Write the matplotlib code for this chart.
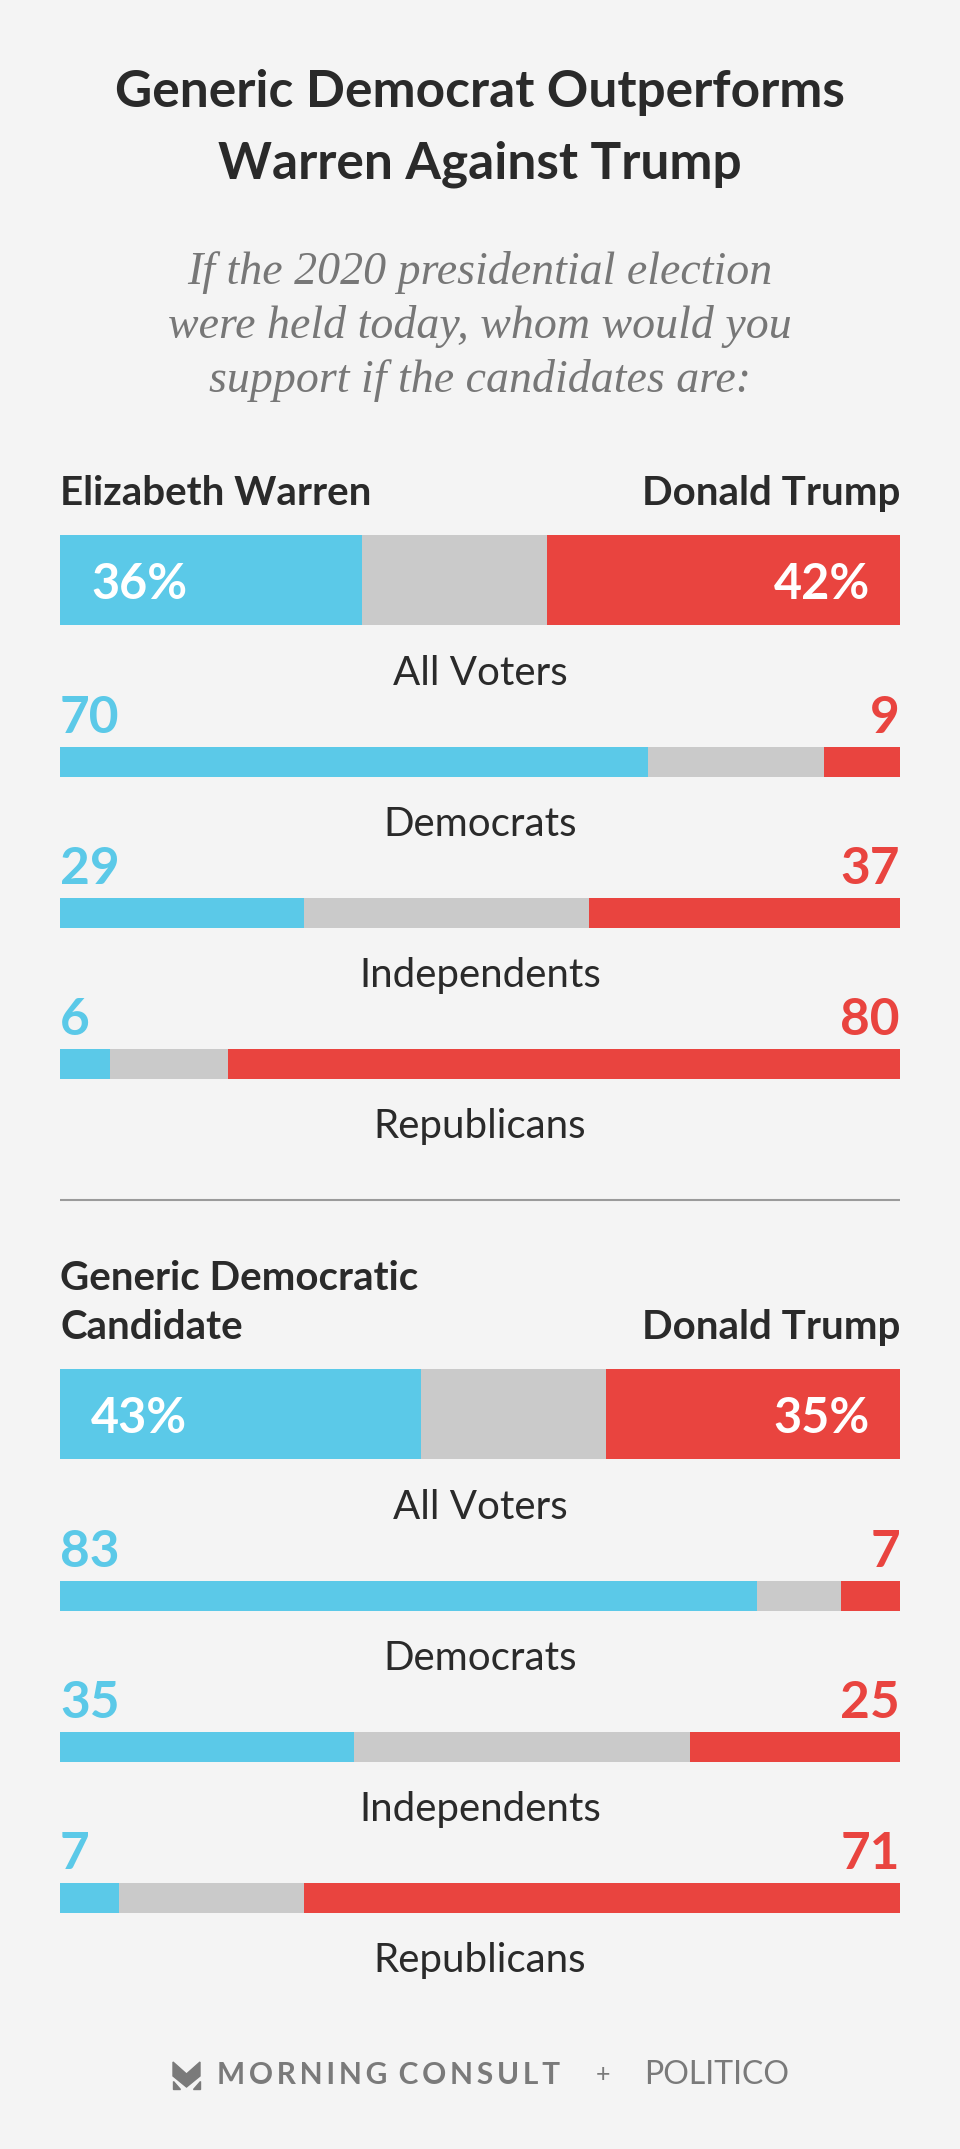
import matplotlib
matplotlib.use("Agg")
import matplotlib.pyplot as plt
from matplotlib.patches import Polygon

# chart data
title_lines = ["Generic Democrat Outperforms", "Warren Against Trump"]
subtitle_lines = ["If the 2020 presidential election",
                  "were held today, whom would you",
                  "support if the candidates are:"]
groups = ["All Voters", "Democrats", "Independents", "Republicans"]
dem_names = [["Elizabeth Warren"], ["Generic Democratic", "Candidate"]]
rep_name = "Donald Trump"

warren = [36, 70, 29, 6]
warren_undecided = [22, 21, 34, 14]
warren_trump = [42, 9, 37, 80]

generic = [43, 83, 35, 7]
generic_undecided = [22, 10, 40, 22]
generic_trump = [35, 7, 25, 71]

sections = [(warren, warren_undecided, warren_trump),
            (generic, generic_undecided, generic_trump)]

BG = "#f4f4f4"
BLUE = "#5bc9e8"
RED = "#e9443f"
GRAY = "#cacaca"
DARK = "#2a2a2a"
FONT = "Lato"

W, H = 960, 2149
fig = plt.figure(figsize=(W / 100, H / 100), dpi=100, facecolor=BG)
# axes spans bar width (60..900 px) and the full height, y in pixels
ax = fig.add_axes([60 / W, 0, 840 / W, 1])
ax.set_xlim(0, 100)
ax.set_ylim(H, 0)
ax.axis("off")
ax.set_facecolor(BG)

# title
for i, line in enumerate(title_lines):
    ax.text(50, 107 + 71 * i, line, ha="center", va="baseline", fontsize=37,
            fontweight="bold", color=DARK, family=FONT)

# subtitle
for i, line in enumerate(subtitle_lines):
    ax.text(50, 284 + 54 * i, line, ha="center", va="baseline", fontsize=33,
            style="italic", color="#777777", family="Liberation Serif")

offset = 834
for s, (dem, und, rep) in enumerate(sections):
    y0 = 535 + offset * s

    # candidate names
    names = dem_names[s]
    for j, nm in enumerate(names):
        ax.text(0, y0 - 30 - 49 * (len(names) - 1 - j), nm, ha="left", va="baseline",
                fontsize=29, fontweight="bold", color=DARK, family=FONT)
    ax.text(100, y0 - 30, rep_name, ha="right", va="baseline",
            fontsize=29, fontweight="bold", color=DARK, family=FONT)

    for g in range(len(groups)):
        if g == 0:
            top, hgt = y0, 90
        else:
            top, hgt = y0 + 212 + 151 * (g - 1), 30
        yc = top + hgt / 2
        ax.barh(yc, dem[g], height=hgt, left=0, color=BLUE, linewidth=0)
        ax.barh(yc, und[g], height=hgt, left=dem[g], color=GRAY, linewidth=0)
        ax.barh(yc, rep[g], height=hgt, left=dem[g] + und[g], color=RED, linewidth=0)

        if g == 0:
            ax.text(3.7, top + 64, f"{dem[g]}%", ha="left", va="baseline",
                    fontsize=35, fontweight="bold", color="white", family=FONT)
            ax.text(96.4, top + 64, f"{rep[g]}%", ha="right", va="baseline",
                    fontsize=35, fontweight="bold", color="white", family=FONT)
        else:
            ax.text(0, top - 14, str(dem[g]), ha="left", va="baseline",
                    fontsize=37, fontweight="bold", color=BLUE, family=FONT)
            ax.text(100, top - 14, str(rep[g]), ha="right", va="baseline",
                    fontsize=37, fontweight="bold", color=RED, family=FONT)

        ax.text(50, y0 + 150 + 151 * g, groups[g], ha="center", va="baseline",
                fontsize=29, color=DARK, family=FONT)

    if s == 0:
        ax.plot([0, 100], [1200, 1200], color="#9a9a9a", lw=1.5, solid_capstyle="butt")

# footer
fy = 1 - 2075 / H
logo_col = "#7a7a7a"
def px(x, y):
    return (x / W, 1 - y / H)
fig.patches.append(Polygon([px(173, 2062), px(186.5, 2074), px(200, 2062),
                            px(200, 2076), px(186.5, 2087), px(173, 2076)],
                           closed=True, transform=fig.transFigure, color=logo_col))
fig.patches.append(Polygon([px(173, 2081), px(173, 2089), px(180, 2089)],
                           closed=True, transform=fig.transFigure, color=logo_col))
fig.patches.append(Polygon([px(200, 2081), px(200, 2089), px(193, 2089)],
                           closed=True, transform=fig.transFigure, color=logo_col))
fig.text(217 / W, fy, "M O R N I N G   C O N S U L T".replace(" ", "\u2009"), ha="left", va="center",
         fontsize=21.5, fontweight="bold", color=logo_col, family=FONT)
fig.text(603 / W, fy, "+", ha="center", va="center", fontsize=18, color=logo_col, family=FONT)
fig.text(644 / W, fy, "POLITICO", ha="left", va="center", fontsize=23,
         color=logo_col, family=FONT)

fig.savefig("out.png", dpi=100, facecolor=BG)
